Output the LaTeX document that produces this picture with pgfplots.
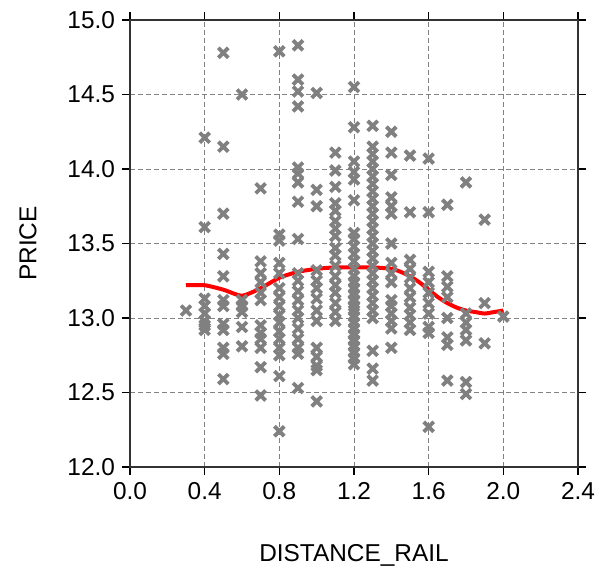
\documentclass[border=0pt]{standalone}
\usepackage{fontspec}
\setmainfont{Liberation Sans}
\usepackage{pgfplots}
\pgfplotsset{compat=1.18}
\definecolor{markgray}{RGB}{128,128,128}
\definecolor{gridgray}{RGB}{130,130,130}

\pgfplotstableread{
x y
0.3 13.05
0.4 14.21
0.4 13.61
0.4 13.13
0.4 13.08
0.4 13.03
0.4 12.98
0.4 12.95
0.4 12.92
0.5 14.78
0.5 14.15
0.5 13.70
0.5 13.43
0.5 13.28
0.5 13.12
0.5 13.08
0.5 12.96
0.5 12.92
0.5 12.80
0.5 12.76
0.5 12.59
0.6 14.50
0.6 13.12
0.6 13.08
0.6 13.04
0.6 12.94
0.6 12.81
0.7 13.87
0.7 13.38
0.7 13.30
0.7 13.24
0.7 13.17
0.7 13.12
0.7 12.95
0.7 12.90
0.7 12.86
0.7 12.80
0.7 12.67
0.7 12.48
0.8 14.79
0.8 13.56
0.8 13.52
0.8 13.37
0.8 13.30
0.8 13.20
0.8 13.14
0.8 13.08
0.8 13.02
0.8 12.97
0.8 12.91
0.8 12.86
0.8 12.80
0.8 12.75
0.8 12.61
0.8 12.24
0.9 14.83
0.9 14.60
0.9 14.52
0.9 14.42
0.9 14.01
0.9 13.97
0.9 13.91
0.9 13.78
0.9 13.53
0.9 13.30
0.9 13.25
0.9 13.18
0.9 13.12
0.9 13.05
0.9 13.00
0.9 12.93
0.9 12.86
0.9 12.80
0.9 12.76
0.9 12.53
1.0 14.51
1.0 13.86
1.0 13.75
1.0 13.32
1.0 13.25
1.0 13.20
1.0 13.13
1.0 13.05
1.0 12.98
1.0 12.80
1.0 12.74
1.0 12.68
1.0 12.65
1.0 12.44
1.1 14.11
1.1 13.99
1.1 13.88
1.1 13.77
1.1 13.72
1.1 13.65
1.1 13.60
1.1 13.55
1.1 13.47
1.1 13.42
1.1 13.35
1.1 13.28
1.1 13.22
1.1 13.17
1.1 13.10
1.1 13.04
1.1 12.98
1.2 14.55
1.2 14.28
1.2 14.05
1.2 13.98
1.2 13.93
1.2 13.79
1.2 13.57
1.2 13.53
1.2 13.48
1.2 13.43
1.2 13.38
1.2 13.33
1.2 13.28
1.2 13.24
1.2 13.20
1.2 13.16
1.2 13.12
1.2 13.08
1.2 13.05
1.2 13.01
1.2 12.97
1.2 12.93
1.2 12.89
1.2 12.85
1.2 12.81
1.2 12.77
1.2 12.73
1.2 12.69
1.3 14.29
1.3 14.15
1.3 14.10
1.3 14.05
1.3 14.00
1.3 13.95
1.3 13.90
1.3 13.85
1.3 13.80
1.3 13.75
1.3 13.70
1.3 13.65
1.3 13.60
1.3 13.55
1.3 13.50
1.3 13.45
1.3 13.40
1.3 13.35
1.3 13.30
1.3 13.25
1.3 13.20
1.3 13.15
1.3 13.10
1.3 13.05
1.3 13.00
1.3 12.78
1.3 12.66
1.3 12.58
1.4 14.25
1.4 14.11
1.4 13.96
1.4 13.81
1.4 13.75
1.4 13.70
1.4 13.50
1.4 13.37
1.4 13.30
1.4 13.24
1.4 13.12
1.4 13.08
1.4 13.03
1.4 12.98
1.4 12.93
1.4 12.80
1.5 14.09
1.5 13.71
1.5 13.39
1.5 13.33
1.5 13.27
1.5 13.20
1.5 13.14
1.5 13.07
1.5 13.02
1.5 12.97
1.5 12.92
1.6 14.07
1.6 13.71
1.6 13.31
1.6 13.24
1.6 13.17
1.6 13.10
1.6 13.03
1.6 12.94
1.6 12.90
1.6 12.27
1.7 13.76
1.7 13.28
1.7 13.21
1.7 13.14
1.7 13.00
1.7 12.87
1.7 12.82
1.7 12.58
1.8 13.91
1.8 13.03
1.8 12.97
1.8 12.92
1.8 12.85
1.8 12.57
1.8 12.49
1.9 13.66
1.9 13.10
1.9 12.83
2.0 13.01
}\pricedata

\pgfplotstableread{
x y
0.30 13.22
0.40 13.22
0.50 13.19
0.60 13.15
0.70 13.20
0.80 13.27
0.90 13.31
1.00 13.33
1.10 13.34
1.20 13.34
1.30 13.34
1.40 13.33
1.45 13.31
1.50 13.28
1.55 13.24
1.60 13.19
1.65 13.14
1.70 13.10
1.75 13.07
1.80 13.05
1.85 13.04
1.90 13.03
1.95 13.04
2.00 13.05
}\fitdata

\begin{document}
\begin{tikzpicture}
\begin{axis}[
  scale only axis,
  width=224pt,
  height=223.5pt,
  xmin=0, xmax=2.4,
  ymin=12, ymax=15,
  xtick={0,0.4,0.8,1.2,1.6,2.0,2.4},
  ytick={12,12.5,13,13.5,14,14.5,15},
  font=\fontsize{12.2}{14}\selectfont,
  /pgf/number format/assume math mode=true,
  xticklabel style={/pgf/number format/fixed,/pgf/number format/fixed zerofill,/pgf/number format/precision=1},
  yticklabel style={/pgf/number format/fixed,/pgf/number format/fixed zerofill,/pgf/number format/precision=1},
  scaled ticks=false,
  grid=major,
  grid style={dash pattern=on 2.5pt off 1.5pt, gridgray, line width=0.5pt},
  tick align=outside,
  major tick length=4pt,
  tick style={black, line width=0.6pt},
  axis line style={black!80, line width=0.8pt},
  xlabel={DISTANCE\_RAIL},
  ylabel={PRICE},
  xlabel style={at={(axis description cs:0.5,-0.197)}, anchor=center},
  ylabel style={at={(axis description cs:-0.228,0.5)}, anchor=center},
]
\addplot[only marks, mark=x, mark size=3.5pt, markgray, line width=1.9pt] table {\pricedata};
\addplot[red, line width=2pt, smooth, tension=0.4] table {\fitdata};
\end{axis}
\pgfresetboundingbox
\path (current axis.south west) ++(-65pt,-59pt) rectangle ++(298.5pt,292.5pt);
\end{tikzpicture}
\end{document}
